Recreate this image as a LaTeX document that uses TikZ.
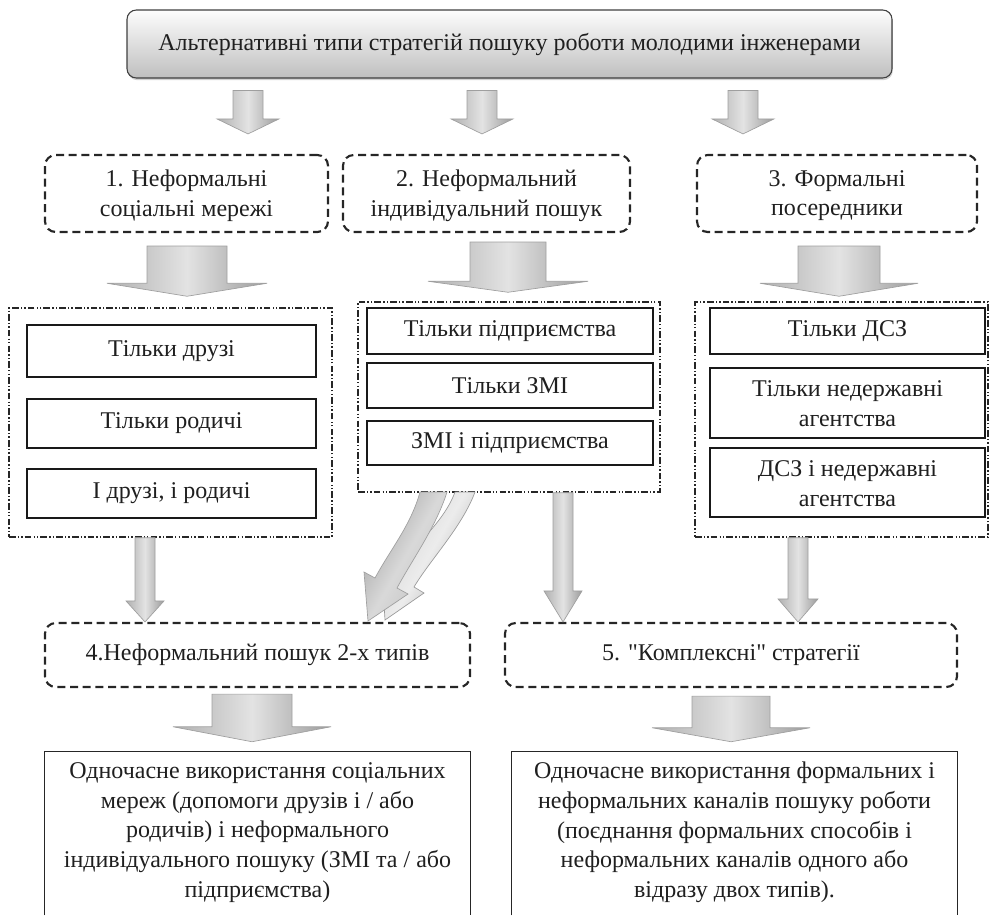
\documentclass[tikz,border=0pt]{standalone}
\usepackage{fontspec}
\setmainfont{Liberation Serif}[Ligatures=TeXOff]
\usetikzlibrary{calc,fit,shadows}

\tikzset{
 every node/.style={font=\fontsize{18}{22.3}\selectfont, align=center, inner sep=0pt, text=black!88},
 topbox/.style={draw=gray!50!black, line width=0.8pt, rounded corners=7pt, top color=gray!2, bottom color=gray!50,
   drop shadow={fill=gray!70, shadow xshift=0.6pt, shadow yshift=-1.6pt}},
 dashbox/.style={draw=black!85, line width=1.6pt, dash pattern=on 6pt off 3.5pt, rounded corners=8pt},
 groupbox/.style={draw=black!85, line width=1.1pt, dash pattern=on 5pt off 1.6pt on 1pt off 1.6pt on 1pt off 1.6pt},
 itembox/.style={draw=black!90, line width=0.8pt, fill=white},
 openbox/.style={draw=black!85, line width=0.8pt},
 blockarrow/.style={draw=gray!75, line width=0.5pt, left color=gray!62, right color=gray!78, middle color=gray!22},
 backarrow/.style={draw=gray!80, line width=0.5pt, left color=gray!35, right color=gray!65, middle color=gray!15, shading angle=60},
 frontarrow/.style={draw=gray!75, line width=0.5pt, left color=gray!72, right color=gray!50, middle color=gray!30, shading angle=60},
}

% vertical block arrow: [style]{x}{source}{target}{gap1}{gap2}{stem half width}{head half width}{head length}
\newcommand\barrow[9][]{%
 \path[blockarrow,#1]
  ($(#2,0 |- #3.south)+(-#7,#5)$) -- ($(#2,0 |- #3.south)+(#7,#5)$)
  -- ($(#2,0 |- #4.north)+(#7,-#6-#9)$) -- ($(#2,0 |- #4.north)+(#8,-#6-#9)$)
  -- ($(#2,0 |- #4.north)+(0,-#6)$)
  -- ($(#2,0 |- #4.north)+(-#8,-#6-#9)$) -- ($(#2,0 |- #4.north)+(-#7,-#6-#9)$) -- cycle;}

\begin{document}
\begin{tikzpicture}[x=0.75pt,y=-0.75pt]
\useasboundingbox (0,0) rectangle (991,915);

% top
\node[topbox, fit={(127,10)(892,78)}] (top) {};
\node (topt) at (top.center) {Альтернативні типи стратегій пошуку роботи молодими інженерами};

% first row
\node[dashbox, fit={(45,155)(328,232)}] (s1) {};
\node[dashbox, fit={(343,155)(630,232)}] (s2) {};
\node[dashbox, fit={(697,155)(977,232)}] (s3) {};
\node (s1t) at ($(s1.center)+(0,2)$) {1. Неформальні\\соціальні мережі};
\node (s2t) at ($(s2.center)+(0,2)$) {2. Неформальний\\індивідуальний пошук};
\node (s3t) at ($(s3.center)+(0,2)$) {3. Формальні\\посередники};

% groups
\node[groupbox, fit={(9,308)(332,537)}] (g1) {};
\node[groupbox, fit={(358,302)(660,492)}] (g2) {};
\node[groupbox, fit={(695,302)(988,537)}] (g3) {};

\node[itembox, fit={(27,325)(316,377)}] (i11) {};
\node[itembox, fit={(27,399)(316,448)}] (i12) {};
\node[itembox, fit={(27,469)(316,518)}] (i13) {};
\node at (i11.center) {Тільки друзі};
\node at (i12.center) {Тільки родичі};
\node at (i13.center) {І друзі, і родичі};

\node[itembox, fit={(367,308)(653,354)}] (i21) {};
\node[itembox, fit={(367,363)(653,408)}] (i22) {};
\node[itembox, fit={(367,421)(653,465)}] (i23) {};
\node at (i21.center) {Тільки підприємства};
\node at (i22.center) {Тільки ЗМІ};
\node at (i23.center) {ЗМІ і підприємства};

\node[itembox, fit={(710,308)(985,354)}] (i31) {};
\node[itembox, fit={(710,368)(985,438)}] (i32) {};
\node[itembox, fit={(710,448)(985,517)}] (i33) {};
\node at (i31.center) {Тільки ДСЗ};
\node at ($(i32.center)+(0,1)$) {Тільки недержавні\\агентства};
\node at ($(i33.center)+(0,1)$) {ДСЗ і недержавні\\агентства};

% second row
\node[dashbox, fit={(45,623)(470,687)}] (s4) {};
\node[dashbox, fit={(505,623)(957,687)}] (s5) {};
\node (s4t) at (s4.center) {4.Неформальний пошук 2-х типів};
\node (s5t) at (s5.center) {5. "Комплексні" стратегії};

% bottom boxes (open at the bottom)
\node[fit={(45,752)(470,915)}] (r1) {};
\node[fit={(512,752)(957,915)}] (r2) {};
\draw[openbox] (r1.south west) -- (r1.north west) -- (r1.north east) -- (r1.south east);
\draw[openbox] (r2.south west) -- (r2.north west) -- (r2.north east) -- (r2.south east);
\node (r1t) at ($(r1.center)+(0,-1)$) {Одночасне використання соціальних\\мереж (допомоги друзів і / або\\родичів) і неформального\\індивідуального пошуку (ЗМІ та / або\\підприємства)};
\node (r2t) at ($(r2.center)+(0,-1)$) {Одночасне використання формальних і\\неформальних каналів пошуку роботи\\(поєднання формальних способів і\\неформальних каналів одного або\\відразу двох типів).};

% arrows: top -> first row
\barrow{248}{top}{s1}{12}{20}{15}{31}{15}
\barrow{482}{top}{s2}{12}{20}{15}{31}{15}
\barrow{743}{top}{s3}{12}{20}{15}{31}{15}

% first row -> groups
\barrow{187}{s1}{g1}{13}{11}{40}{80}{13}
\barrow{508}{s2}{g2}{9}{9}{38}{80}{11}
\barrow{839}{s3}{g3}{13}{5}{41}{79}{13}

% groups -> second row
\barrow{145}{g1}{s4}{0}{0}{10}{19}{21}
\barrow{563}{g2}{s5}{0}{0}{10}{19}{31}
\barrow{798}{g3}{s5}{0}{0}{10}{20}{23}

% curved double arrow g2 -> s4
\path[backarrow]
 (455,492) .. controls (443,525) and (408,550) .. (392,577)
 -- (382,571) -- (385,620) -- (424,593) -- (414,587)
 .. controls (430,560) and (462,527) .. (475,492) -- cycle;
\path[frontarrow]
 (420,492) .. controls (411,525) and (390,550) .. (375,578)
 -- (364,572) -- (368,621) -- (408,594) -- (397,588)
 .. controls (412,560) and (436,527) .. (447,492) -- cycle;

% second row -> bottom
\barrow{252}{s4}{r1}{6}{10}{40}{79}{15}
\barrow{731}{s5}{r2}{8}{10}{39}{79}{14}
\end{tikzpicture}
\end{document}
